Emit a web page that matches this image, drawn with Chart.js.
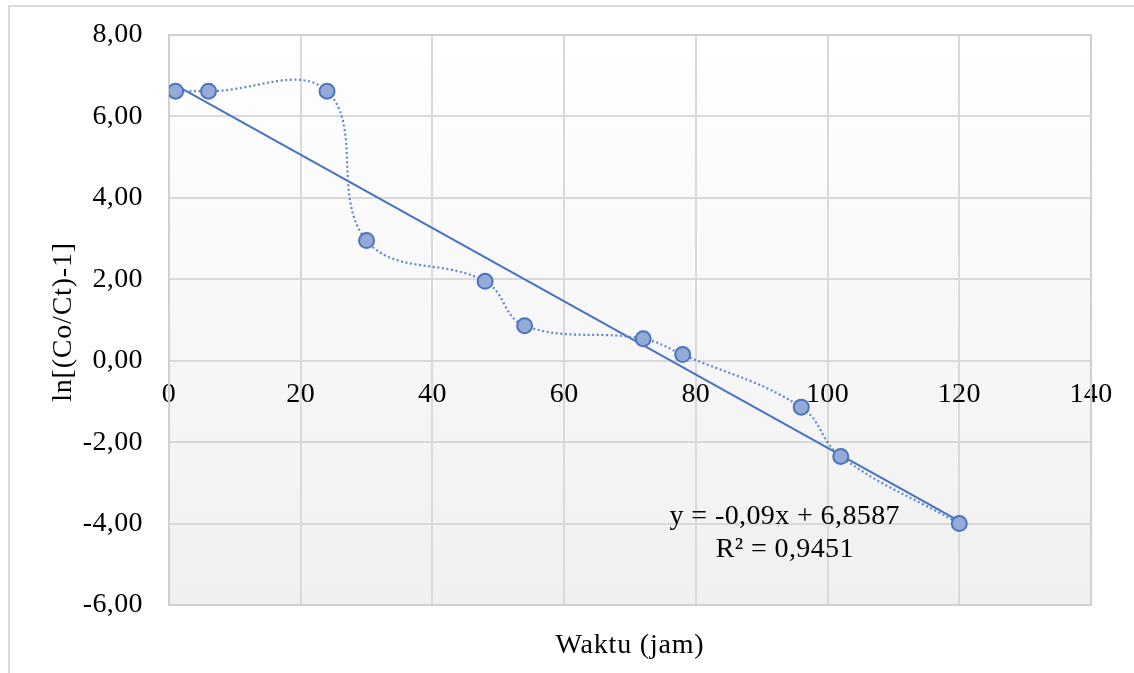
<!DOCTYPE html>
<html><head><meta charset="utf-8">
<script src="https://cdn.jsdelivr.net/npm/chart.js@4"></script>
<style>html,body{margin:0;padding:0;background:#fff;overflow:hidden;} #wrap{width:1134px;height:673px;position:relative;}</style>
</head><body><div id="wrap"><canvas id="c" width="1134" height="673"></canvas></div>
<script>
// ---- data ----
const waktu = [1, 6, 24, 30, 48, 54, 72, 78, 96, 102, 120];
const lnValues = [6.62, 6.62, 6.62, 2.95, 1.95, 0.86, 0.54, 0.15, -1.14, -2.35, -4.00];
const trendSlope = -0.09;
const trendIntercept = 6.8587;
const trendRange = [1, 120];
const xTicks = [0, 20, 40, 60, 80, 100, 120, 140];
const yTicks = [-6, -4, -2, 0, 2, 4, 6, 8];
const equationLines = ['y = -0,09x + 6,8587', 'R² = 0,9451'];
const xTitle = 'Waktu (jam)';
const yTitle = 'ln[(Co/Ct)-1]';

const FONT = '"Liberation Serif", "Times New Roman", serif';
const FS = 28;

const pointData = waktu.map((x, i) => ({x: x, y: lnValues[i]}));
const trendData = trendRange.map(x => ({x: x, y: trendSlope * x + trendIntercept}));

const fmtComma = v => v.toFixed(2).replace('.', ',');

const decor = {
  id: 'decor',
  beforeDraw(chart) {
    const ctx = chart.ctx, a = chart.chartArea;
    ctx.save();
    ctx.fillStyle = '#ffffff';
    ctx.fillRect(0, 0, chart.width, chart.height);
    // outer frame
    ctx.strokeStyle = '#d9d9d9';
    ctx.lineWidth = 2;
    ctx.beginPath();
    ctx.moveTo(9, chart.height);
    ctx.lineTo(9, 6);
    ctx.lineTo(chart.width, 6);
    ctx.stroke();
    // plot area gradient
    const g = ctx.createLinearGradient(0, a.top, 0, a.bottom);
    g.addColorStop(0, '#ffffff');
    g.addColorStop(1, '#f0f0f0');
    ctx.fillStyle = g;
    ctx.fillRect(a.left, a.top, a.right - a.left, a.bottom - a.top);
    ctx.restore();
    ctx.letterSpacing = '0.4px';
  },
  beforeDatasetsDraw(chart) {
    const ctx = chart.ctx, a = chart.chartArea;
    ctx.save();
    ctx.strokeStyle = '#d0d0d0';
    ctx.lineWidth = 2;
    ctx.strokeRect(a.left, a.top, a.right - a.left, a.bottom - a.top);
    ctx.restore();
  },
  afterDraw(chart) {
    const ctx = chart.ctx, a = chart.chartArea;
    const xs = chart.scales.x, ys = chart.scales.y;
    ctx.save();
    ctx.letterSpacing = '0.4px';
    ctx.fillStyle = '#000';
    ctx.font = FS + 'px ' + FONT;
    ctx.textAlign = 'center';
    ctx.textBaseline = 'middle';
    // equation
    const ex = xs.getPixelForValue(93.5);
    ctx.fillText(equationLines[0], ex, ys.getPixelForValue(-3.82));
    ctx.fillText(equationLines[1], ex, ys.getPixelForValue(-4.64));
    // x title
    ctx.letterSpacing = '0.8px';
    ctx.fillText(xTitle, (a.left + a.right) / 2, 646);
    // y title
    ctx.translate(64, (a.top + a.bottom) / 2 + 2);
    ctx.rotate(-Math.PI / 2);
    ctx.fillText(yTitle, 0, 0);
    ctx.restore();
  }
};

const zeroPad = s => { s.paddingTop = 0; s.paddingBottom = 0; s.paddingLeft = 0; s.paddingRight = 0; };

new Chart(document.getElementById('c'), {
  type: 'scatter',
  data: {
    datasets: [
      {
        label: 'data',
        data: pointData,
        showLine: true,
        tension: 0.4,
        borderColor: '#5f87cc',
        borderWidth: 2.2,
        borderDash: [2, 2.6],
        pointRadius: 7.5,
        pointHoverRadius: 7.5,
        pointBackgroundColor: '#94abd8',
        pointBorderColor: '#4a74bd',
        pointBorderWidth: 2,
        order: 0
      },
      {
        label: 'trend',
        data: trendData,
        showLine: true,
        tension: 0,
        borderColor: '#4472c4',
        borderWidth: 2,
        pointRadius: 0,
        order: 1
      }
    ]
  },
  options: {
    responsive: false,
    animation: false,
    devicePixelRatio: 1,
    layout: { padding: { top: 35, right: 43, bottom: 68, left: 0 } },
    plugins: { legend: { display: false }, tooltip: { enabled: false } },
    scales: {
      x: {
        type: 'linear',
        position: { y: 0 },
        min: 0, max: 140,
        afterBuildTicks: s => { s.ticks = xTicks.map(v => ({value: v})); },
        afterFit: s => { s.height = 0; zeroPad(s); },
        grid: { color: '#d9d9d9', lineWidth: 2, drawTicks: false },
        border: { display: false },
        ticks: { color: '#000', padding: 17, font: { family: FONT, size: FS }, maxRotation: 0, autoSkip: false, callback: v => String(v) }
      },
      y: {
        type: 'linear',
        position: 'left',
        min: -6, max: 8,
        afterBuildTicks: s => { s.ticks = yTicks.map(v => ({value: v})); },
        afterFit: s => { s.width = 169; zeroPad(s); },
        grid: { color: '#d9d9d9', lineWidth: 2, drawTicks: false },
        border: { display: false },
        ticks: { color: '#000', padding: 26, font: { family: FONT, size: FS }, autoSkip: false, callback: v => fmtComma(v) }
      }
    }
  },
  plugins: [decor]
});
</script>
</body></html>
